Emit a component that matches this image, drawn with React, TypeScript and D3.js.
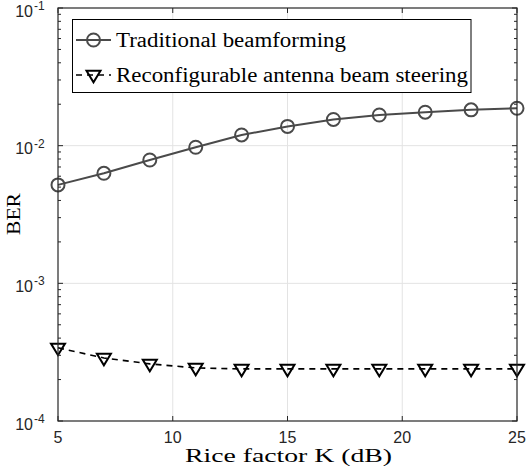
import React from "react";
import * as d3 from "d3";

// Rice factor K (dB)
const riceK = [5, 7, 9, 11, 13, 15, 17, 19, 21, 23, 25];
// BER of the two schemes
const berTraditional = [5.19e-3, 6.3e-3, 7.87e-3, 9.74e-3, 1.196e-2, 1.38e-2, 1.55e-2, 1.67e-2, 1.75e-2, 1.82e-2, 1.87e-2];
const berReconfigurable = [3.4e-4, 2.87e-4, 2.6e-4, 2.43e-4, 2.39e-4, 2.39e-4, 2.39e-4, 2.39e-4, 2.39e-4, 2.39e-4, 2.39e-4];
const seriesNames = ["Traditional beamforming", "Reconfigurable antenna beam steering"];
const xTicks = [5, 10, 15, 20, 25];
const yExponents = [-4, -3, -2, -1];

const W = 529;
const H = 475;
const plot = { left: 58, right: 517, top: 8, bottom: 421 };
const axisColor = "#262626";
const gridColor = "#e3e3e3";
const tradColor = "#4a4a4a";
const sans = "'Liberation Sans', Arial, sans-serif";
const serif = "'Liberation Serif', 'Times New Roman', serif";

export default function App() {
  const x = d3.scaleLinear().domain([5, 25]).range([plot.left, plot.right]);
  const y = d3.scaleLog().domain([1e-4, 1e-1]).range([plot.bottom, plot.top]);

  const line = d3
    .line<[number, number]>()
    .x((d) => x(d[0]))
    .y((d) => y(d[1]));

  const tradPts: [number, number][] = riceK.map((k, i) => [k, berTraditional[i]]);
  const recPts: [number, number][] = riceK.map((k, i) => [k, berReconfigurable[i]]);

  const minorTicks: number[] = [];
  for (let e = -4; e < -1; e++) {
    for (let m = 2; m <= 9; m++) minorTicks.push(m * Math.pow(10, e));
  }

  const tri = (cx: number, cy: number, s = 7) =>
    `M${cx - s},${cy - s * 0.6} L${cx + s},${cy - s * 0.6} L${cx},${cy + s * 1.05} Z`;

  const legend = { x: 72.5, y: 19.5, w: 398.5, h: 73 };
  const row1 = 40;
  const row2 = 75;

  return (
    <svg width={W} height={H} style={{ position: "absolute", left: 0, top: 0, background: "#fff" }}>
      <rect x={0} y={0} width={W} height={H} fill="#fff" />
      {/* grid */}
      {xTicks
        .filter((t) => t !== 5 && t !== 25)
        .map((t) => (
          <line key={"gx" + t} x1={x(t)} x2={x(t)} y1={plot.top} y2={plot.bottom} stroke={gridColor} strokeWidth={1} />
        ))}
      {yExponents
        .filter((e) => e !== -4 && e !== -1)
        .map((e) => (
          <line key={"gy" + e} x1={plot.left} x2={plot.right} y1={y(Math.pow(10, e))} y2={y(Math.pow(10, e))} stroke={gridColor} strokeWidth={1} />
        ))}

      {/* series: traditional beamforming */}
      <path d={line(tradPts) || ""} fill="none" stroke={tradColor} strokeWidth={2} />
      {tradPts.map((p, i) => (
        <circle key={"c" + i} cx={x(p[0])} cy={y(p[1])} r={6.5} fill="none" stroke={tradColor} strokeWidth={2} />
      ))}

      {/* series: reconfigurable antenna beam steering */}
      <path d={line(recPts) || ""} fill="none" stroke="#000" strokeWidth={1.6} strokeDasharray="6,5" />
      {recPts.map((p, i) => (
        <path key={"t" + i} d={tri(x(p[0]), y(p[1]))} fill="none" stroke="#000" strokeWidth={2} strokeLinejoin="miter" />
      ))}

      {/* axes box */}
      <rect x={plot.left} y={plot.top} width={plot.right - plot.left} height={plot.bottom - plot.top} fill="none" stroke={axisColor} strokeWidth={1.2} />

      {/* x ticks */}
      {xTicks.map((t) => (
        <g key={"xt" + t}>
          <line x1={x(t)} x2={x(t)} y1={plot.bottom} y2={plot.bottom - 5} stroke={axisColor} />
          <line x1={x(t)} x2={x(t)} y1={plot.top} y2={plot.top + 5} stroke={axisColor} />
          <text x={x(t)} y={443} textAnchor="middle" fontFamily={sans} fontSize={16} fill={axisColor}>
            {t}
          </text>
        </g>
      ))}

      {/* y ticks */}
      {yExponents.map((e) => {
        const yy = y(Math.pow(10, e));
        return (
          <g key={"yt" + e}>
            <line x1={plot.left} x2={plot.left + 5} y1={yy} y2={yy} stroke={axisColor} />
            <line x1={plot.right} x2={plot.right - 5} y1={yy} y2={yy} stroke={axisColor} />
            <text x={33} y={yy + 8.5} textAnchor="end" fontFamily={sans} fontSize={16} fill={axisColor}>
              10
            </text>
            <text x={34} y={yy + 2} textAnchor="start" fontFamily={sans} fontSize={12} fill={axisColor}>
              {String(e)}
            </text>
          </g>
        );
      })}
      {minorTicks.map((v, i) => (
        <g key={"mt" + i}>
          <line x1={plot.left} x2={plot.left + 3} y1={y(v)} y2={y(v)} stroke={axisColor} />
          <line x1={plot.right} x2={plot.right - 3} y1={y(v)} y2={y(v)} stroke={axisColor} />
        </g>
      ))}

      {/* axis labels */}
      <text x={288.5} y={462} textAnchor="middle" fontFamily={serif} fontSize={19} fill="#000" textLength={207} lengthAdjust="spacingAndGlyphs">
        Rice factor K (dB)
      </text>
      <text
        transform={`translate(20, 214) rotate(-90)`}
        textAnchor="middle"
        fontFamily={serif}
        fontSize={19}
        fill="#000"
        textLength={42}
        lengthAdjust="spacingAndGlyphs"
      >
        BER
      </text>

      {/* legend */}
      <rect x={legend.x} y={legend.y} width={legend.w} height={legend.h} fill="#fff" stroke="#000" strokeWidth={1} />
      <line x1={76} x2={111} y1={row1} y2={row1} stroke={tradColor} strokeWidth={2} />
      <circle cx={93.5} cy={row1} r={6.5} fill="none" stroke={tradColor} strokeWidth={2} />
      <text x={116} y={row1 + 6.5} fontFamily={serif} fontSize={20} fill="#000" textLength={230} lengthAdjust="spacingAndGlyphs">
        {seriesNames[0]}
      </text>
      <line x1={76} x2={111} y1={row2} y2={row2} stroke="#000" strokeWidth={1.6} strokeDasharray="6,5" />
      <path d={tri(93.5, row2)} fill="none" stroke="#000" strokeWidth={2} />
      <text x={116} y={row2 + 6.5} fontFamily={serif} fontSize={20} fill="#000" textLength={352} lengthAdjust="spacingAndGlyphs">
        {seriesNames[1]}
      </text>
    </svg>
  );
}
